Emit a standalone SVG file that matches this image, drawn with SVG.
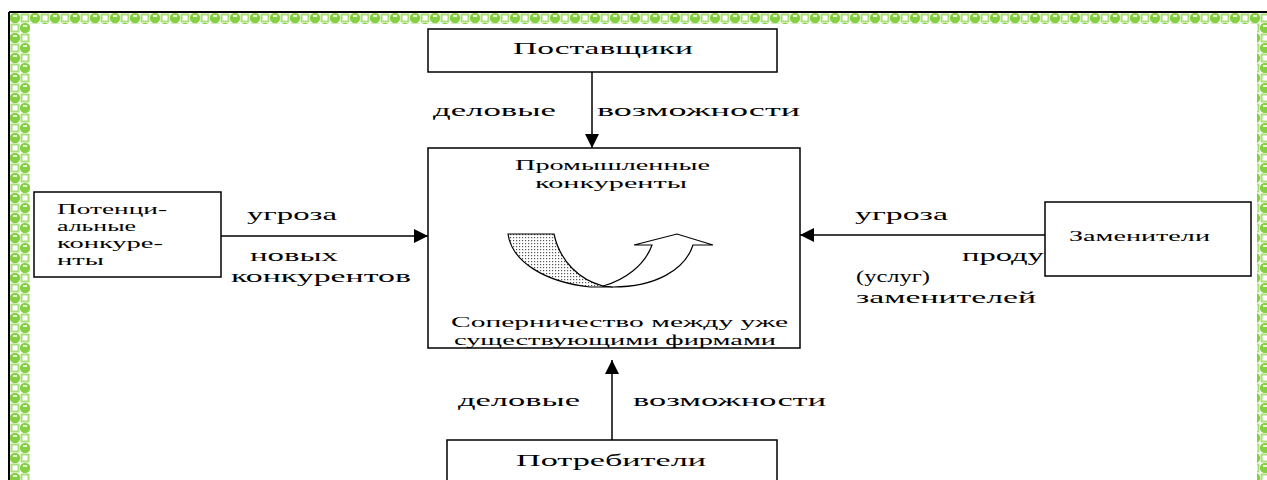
<svg xmlns="http://www.w3.org/2000/svg" width="1267" height="480" viewBox="0 0 1267 480">
<style>
.box{fill:#fff;stroke:#000;stroke-width:1.5}
.t{font-family:"Liberation Serif","DejaVu Serif",serif;font-size:17px;fill:#000}
.s{font-family:"Liberation Serif","DejaVu Serif",serif;font-size:15px;fill:#000}
.c{font-family:"Liberation Serif","DejaVu Serif",serif;font-size:16px;fill:#000}
.ln{stroke:#000;stroke-width:1.5;fill:none}
</style>
<defs>
<pattern id="gp" x="10" y="13" width="20" height="20" patternUnits="userSpaceOnUse">
<rect width="20" height="20" fill="#fff"/>
<circle cx="5" cy="5" r="5.2" fill="#86cf45"/>
<circle cx="15" cy="15" r="5.2" fill="#86cf45"/>
<rect x="10.5" y="0.5" width="9" height="9" fill="#a9df78"/>
<rect x="12.5" y="2.5" width="5" height="5" fill="#fff"/>
<rect x="0.5" y="10.5" width="9" height="9" fill="#a9df78"/>
<rect x="2.5" y="12.5" width="5" height="5" fill="#fff"/>
<rect x="3" y="2" width="4" height="2" fill="#e4f6d2"/>
<rect x="13" y="12" width="4" height="2" fill="#e4f6d2"/>
</pattern>
<pattern id="pd" width="3" height="3" patternUnits="userSpaceOnUse">
<rect width="3" height="3" fill="#fff"/>
<rect width="1.2" height="1.2" fill="#555"/>
</pattern>
<marker id="ah" viewBox="0 0 10 10" refX="10" refY="5" markerWidth="20" markerHeight="14" markerUnits="userSpaceOnUse" orient="auto">
<path d="M0,0 L10,5 L0,10 Z" fill="#000"/>
</marker>
</defs>
<g id="frame">
<rect x="10" y="13" width="1257" height="11" fill="url(#gp)"/>
<rect x="10" y="13" width="20" height="467" fill="url(#gp)"/>
<rect x="1257" y="13" width="10" height="467" fill="url(#gp)"/>
<line x1="9" y1="12" x2="1267" y2="12" stroke="#000" stroke-width="2"/>
<line x1="9" y1="12" x2="9" y2="480" stroke="#000" stroke-width="2"/>
</g>
<g id="connectors">
<line class="ln" x1="592" y1="72" x2="592" y2="148" marker-end="url(#ah)"/>
<line class="ln" x1="221" y1="236" x2="428" y2="236" marker-end="url(#ah)"/>
<line class="ln" x1="1045" y1="235" x2="800" y2="235" marker-end="url(#ah)"/>
<line class="ln" x1="612" y1="440" x2="612" y2="360" marker-end="url(#ah)"/>
<text class="c" x="433" y="116" textLength="123" lengthAdjust="spacingAndGlyphs">деловые</text>
<text class="c" x="597" y="116" textLength="203" lengthAdjust="spacingAndGlyphs">возможности</text>
<text class="c" x="458" y="406" textLength="122" lengthAdjust="spacingAndGlyphs">деловые</text>
<text class="c" x="633" y="406" textLength="193" lengthAdjust="spacingAndGlyphs">возможности</text>
<text class="c" x="247" y="220" textLength="90" lengthAdjust="spacingAndGlyphs">угроза</text>
<text class="c" x="250" y="261" textLength="88" lengthAdjust="spacingAndGlyphs">новых</text>
<text class="c" x="231" y="282" textLength="180" lengthAdjust="spacingAndGlyphs">конкурентов</text>
<text class="c" x="855" y="220" textLength="93" lengthAdjust="spacingAndGlyphs">угроза</text>
<text class="c" x="962" y="261" textLength="150" lengthAdjust="spacingAndGlyphs">продукции</text>
<text class="c" x="856" y="282" textLength="74" lengthAdjust="spacingAndGlyphs">(услуг)</text>
<text class="c" x="856" y="303" textLength="180" lengthAdjust="spacingAndGlyphs">заменителей</text>
</g>
<g id="substitutes">
<rect class="box" x="1045" y="202" width="206" height="74"/>
<text class="s" x="1069" y="241" textLength="141" lengthAdjust="spacingAndGlyphs">Заменители</text>
</g>
<g id="suppliers">
<rect class="box" x="428" y="29" width="349" height="43"/>
<text class="t" x="513" y="54" textLength="180" lengthAdjust="spacingAndGlyphs">Поставщики</text>
</g>
<g id="industry">
<rect class="box" x="428" y="148" width="372" height="200"/>
<text class="s" x="515" y="170" textLength="195" lengthAdjust="spacingAndGlyphs">Промышленные</text>
<text class="s" x="535" y="188" textLength="152" lengthAdjust="spacingAndGlyphs">конкуренты</text>
<path d="M508,234 L554,234 C560,262 580,280 603,286 L613,287 L590,287 C545,282 512,262 508,234 Z" fill="url(#pd)" stroke="#000" stroke-width="1.2"/>
<path d="M603,286 C625,280 645,265 652,245 L634,245 L677,234 L713,245 L693,245 C685,270 655,287 613,287 Z" fill="#fff" stroke="#000" stroke-width="1.2"/>
<text class="s" x="451" y="327" textLength="337" lengthAdjust="spacingAndGlyphs">Соперничество между уже</text>
<text class="s" x="454" y="345" textLength="322" lengthAdjust="spacingAndGlyphs">существующими фирмами</text>
</g>
<g id="potential">
<rect class="box" x="34" y="192" width="187" height="85"/>
<text class="s" x="57" y="214" textLength="110" lengthAdjust="spacingAndGlyphs">Потенци-</text>
<text class="s" x="57" y="231" textLength="79" lengthAdjust="spacingAndGlyphs">альные</text>
<text class="s" x="57" y="248" textLength="106" lengthAdjust="spacingAndGlyphs">конкуре-</text>
<text class="s" x="57" y="265" textLength="47" lengthAdjust="spacingAndGlyphs">нты</text>
</g>
<g id="buyers">
<rect class="box" x="447" y="440" width="330" height="50"/>
<text class="t" x="516" y="466" textLength="190" lengthAdjust="spacingAndGlyphs">Потребители</text>
</g>
</svg>
